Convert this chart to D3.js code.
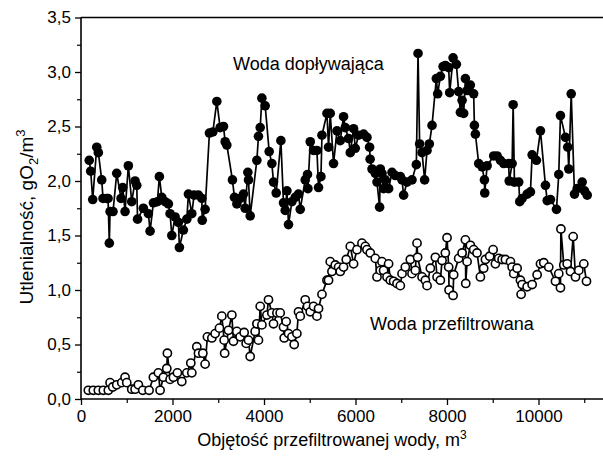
<!DOCTYPE html>
<html><head><meta charset="utf-8">
<script src="https://cdn.jsdelivr.net/npm/d3@7/dist/d3.min.js"></script>
<style>
html,body{margin:0;padding:0;background:#fff;}
svg{display:block;}
text{font-family:"Liberation Sans",Arial,sans-serif;fill:#000;}
</style></head>
<body>
<svg id="chart" width="603" height="461"></svg>
<script>
// Woda dopływająca (inflow water), filled circles
const inflowVolume = [180,212,256,344,379,453,481,562,591,619,635,700,781,875,912,963,1035,1109,1182,1219,1236,1363,1473,1510,1582,1669,1713,1766,1838,1910,1947,1985,2057,2129,2151,2238,2313,2348,2422,2472,2567,2641,2650,2713,2807,2882,2969,3041,3114,3151,3188,3310,3354,3407,3479,3551,3588,3647,3661,3698,3844,3879,3917,3954,4026,4113,4172,4208,4267,4369,4426,4464,4501,4536,4610,4682,4754,4792,4901,4951,4960,5011,5083,5157,5192,5245,5267,5376,5411,5448,5520,5595,5667,5739,5776,5849,5886,5958,5995,6067,6177,6251,6308,6320,6361,6433,6470,6527,6542,6579,6614,6651,6724,6798,6870,6980,7017,7052,7126,7235,7330,7367,7402,7455,7511,7564,7614,7673,7767,7796,7855,7914,7964,8037,8059,8133,8205,8255,8293,8330,8365,8402,8439,8511,8583,8599,8621,8693,8767,8818,8825,8877,9021,9096,9168,9240,9349,9360,9424,9446,9474,9568,9590,9643,9752,9824,9861,9955,10043,10152,10190,10262,10393,10443,10480,10590,10640,10662,10715,10787,10846,10955,11006,11065];
const inflowValue = [2.19,2.09,1.83,2.31,2.26,2.01,1.84,1.84,1.84,1.43,1.72,1.72,2.07,1.84,1.94,1.72,2.14,1.81,2.00,1.96,1.65,1.75,1.70,1.54,1.80,1.81,2.04,1.85,1.81,1.79,1.70,1.50,1.67,1.62,1.39,1.55,1.65,1.88,1.70,1.87,1.87,1.84,1.64,1.74,2.44,2.45,2.73,2.49,2.50,2.36,2.33,2.01,1.85,1.79,1.84,1.88,1.75,2.08,2.01,1.68,2.19,2.41,2.49,2.76,2.69,2.27,2.16,1.99,1.89,2.37,1.80,1.73,1.91,1.60,1.81,1.85,1.88,1.74,2.01,2.06,1.93,2.36,2.28,2.28,1.94,2.04,2.42,2.62,2.31,2.62,2.16,2.46,2.37,2.59,2.49,2.39,2.26,2.48,2.30,2.42,2.43,2.40,2.31,2.20,2.11,2.07,1.99,1.76,2.11,2.07,1.93,2.01,1.93,2.08,2.05,2.04,2.01,1.87,1.99,2.01,2.15,3.17,2.34,2.26,2.01,2.28,2.34,2.51,2.94,2.80,2.96,3.05,3.06,3.04,2.81,3.13,3.07,2.82,2.63,2.74,2.62,2.94,2.83,2.88,2.80,2.51,2.43,2.16,2.13,2.01,1.89,2.14,2.23,2.23,2.19,2.16,2.16,2.00,2.16,2.70,1.99,1.99,1.81,1.84,1.88,1.90,2.24,2.19,2.46,1.96,1.82,1.83,1.74,2.06,2.60,2.40,2.31,2.11,2.80,1.88,1.93,1.99,1.91,1.87];

// Woda przefiltrowana (filtered water), open circles
const filteredVolume = [160,269,379,488,597,635,694,781,891,963,1000,1109,1182,1254,1350,1488,1582,1691,1729,1801,1875,1888,1947,2020,2107,2203,2313,2400,2422,2531,2567,2663,2713,2763,2860,2932,3026,3078,3129,3140,3223,3297,3332,3407,3479,3566,3610,3661,3698,3807,3844,3879,3917,3954,4063,4098,4172,4208,4282,4354,4426,4442,4485,4536,4610,4660,4719,4754,4792,4901,4951,5011,5083,5157,5192,5267,5376,5411,5448,5485,5558,5630,5667,5739,5798,5886,5958,6032,6141,6214,6251,6323,6433,6470,6542,6579,6614,6689,6724,6761,6833,6907,6980,7017,7089,7198,7235,7308,7345,7358,7455,7527,7564,7636,7746,7783,7855,7892,7964,8001,8037,8045,8133,8146,8255,8330,8402,8410,8439,8511,8583,8656,8730,8802,8840,8933,9008,9058,9130,9205,9277,9387,9424,9459,9533,9605,9620,9643,9752,9861,9970,10043,10115,10224,10371,10443,10480,10490,10553,10627,10699,10758,10809,10881,10990,11049];
const filteredValue = [0.08,0.08,0.08,0.08,0.08,0.15,0.11,0.13,0.15,0.20,0.15,0.09,0.09,0.13,0.08,0.08,0.20,0.24,0.08,0.20,0.28,0.42,0.18,0.20,0.24,0.16,0.24,0.33,0.24,0.48,0.42,0.42,0.32,0.57,0.56,0.60,0.65,0.76,0.54,0.42,0.63,0.77,0.53,0.62,0.57,0.61,0.51,0.54,0.39,0.62,0.69,0.54,0.85,0.68,0.77,0.91,0.79,0.69,0.79,0.79,0.66,0.56,0.71,0.60,0.57,0.50,0.60,0.80,0.76,0.91,0.85,0.80,0.85,0.76,0.83,0.96,1.09,1.09,1.26,1.17,1.23,1.21,1.17,1.21,1.28,1.40,1.24,1.37,1.43,1.40,1.37,1.34,1.29,1.12,1.18,1.26,1.18,1.12,1.24,1.09,1.08,1.06,1.04,1.15,1.21,1.28,1.15,1.18,1.43,1.30,1.12,1.09,1.04,1.20,1.30,1.12,1.09,1.27,1.34,1.48,1.21,1.00,0.95,1.14,1.29,1.34,1.46,1.06,1.26,1.41,1.37,1.34,1.12,1.20,1.28,1.31,1.37,1.24,1.29,1.28,1.28,1.26,1.21,1.15,1.20,1.09,0.96,1.05,1.03,1.05,1.14,1.24,1.25,1.21,1.08,1.15,1.02,1.56,1.23,1.24,1.17,1.49,1.12,1.18,1.24,1.08];

const yTickValues = [0,0.5,1.0,1.5,2.0,2.5,3.0,3.5];
const yTickLabels = ["0,0","0,5","1,0","1,5","2,0","2,5","3,0","3,5"];
const xTickValues = [0,2000,4000,6000,8000,10000];
const xTickLabels = ["0","2000","4000","6000","8000","10000"];

const svg = d3.select("#chart");
const pL = 81, pR = 603, pT = 17.5, pB = 399;
const x = d3.scaleLinear().domain([0, 11410]).range([pL, pR]);
const y = d3.scaleLinear().domain([0, 3.5]).range([pB, pT]);

// Top frame line
svg.append("line").attr("x1", pL).attr("x2", pR).attr("y1", pT).attr("y2", pT)
  .attr("stroke", "#000").attr("stroke-width", 1.6);

// Y axis
const yAxis = d3.axisLeft(y).tickValues(yTickValues).tickSize(6).tickPadding(4)
  .tickFormat((d, i) => yTickLabels[i]);
const gy = svg.append("g").attr("transform", `translate(${pL},0)`).call(yAxis);
gy.select(".domain").remove();
gy.selectAll(".tick line").attr("stroke", "#000").attr("stroke-width", 1.3);
gy.selectAll(".tick text").attr("font-size", 17).attr("font-family", "Liberation Sans, Arial, sans-serif").attr("fill", "#000");
const yMinor = d3.axisLeft(y).tickValues(d3.range(0.25, 3.5, 0.5)).tickSize(4).tickFormat("");
const gym = svg.append("g").attr("transform", `translate(${pL},0)`).call(yMinor);
gym.select(".domain").remove();
gym.selectAll(".tick line").attr("stroke", "#000").attr("stroke-width", 1.2);

// X axis
const xAxis = d3.axisBottom(x).tickValues(xTickValues).tickSize(6).tickPadding(5)
  .tickFormat((d, i) => xTickLabels[i]);
const gx = svg.append("g").attr("transform", `translate(0,${pB})`).call(xAxis);
gx.select(".domain").remove();
gx.selectAll(".tick line").attr("stroke", "#000").attr("stroke-width", 1.3);
gx.selectAll(".tick text").attr("font-size", 17).attr("font-family", "Liberation Sans, Arial, sans-serif").attr("fill", "#000");
const xMinor = d3.axisBottom(x).tickValues(d3.range(1000, 11001, 2000)).tickSize(4).tickFormat("");
const gxm = svg.append("g").attr("transform", `translate(0,${pB})`).call(xMinor);
gxm.select(".domain").remove();
gxm.selectAll(".tick line").attr("stroke", "#000").attr("stroke-width", 1.2);

// Axis lines
svg.append("line").attr("x1", pL).attr("x2", pL).attr("y1", pT).attr("y2", pB)
  .attr("stroke", "#000").attr("stroke-width", 1.6);
svg.append("line").attr("x1", pL).attr("x2", pR).attr("y1", pB).attr("y2", pB)
  .attr("stroke", "#000").attr("stroke-width", 1.6);

// Series
const inflow = inflowVolume.map((v, i) => [v, inflowValue[i]]);
const filtered = filteredVolume.map((v, i) => [v, filteredValue[i]]);
const line = d3.line().x(d => x(d[0])).y(d => y(d[1]));

svg.append("path").datum(inflow).attr("d", line)
  .attr("fill", "none").attr("stroke", "#000").attr("stroke-width", 1.7);
svg.append("g").selectAll("circle").data(inflow).join("circle")
  .attr("cx", d => x(d[0])).attr("cy", d => y(d[1])).attr("r", 4.8).attr("fill", "#000");

svg.append("path").datum(filtered).attr("d", line)
  .attr("fill", "none").attr("stroke", "#000").attr("stroke-width", 1.7);
svg.append("g").selectAll("circle").data(filtered).join("circle")
  .attr("cx", d => x(d[0])).attr("cy", d => y(d[1])).attr("r", 4.1)
  .attr("fill", "#fff").attr("stroke", "#000").attr("stroke-width", 1.6);

// In-plot labels
svg.append("text").attr("x", 233).attr("y", 69.5).attr("font-size", 18).text("Woda dopływająca");
svg.append("text").attr("x", 370).attr("y", 330).attr("font-size", 18).text("Woda przefiltrowana");

// X title
const xt = svg.append("text").attr("x", 332).attr("y", 446).attr("text-anchor", "middle").attr("font-size", 18);
xt.append("tspan").text("Objętość przefiltrowanej wody, m");
xt.append("tspan").attr("font-size", 12).attr("dy", -7).text("3");

// Y title
const yt = svg.append("text").attr("transform", "translate(33,217) rotate(-90)")
  .attr("text-anchor", "middle").attr("font-size", 19);
yt.append("tspan").text("Utlenialność, gO");
yt.append("tspan").attr("font-size", 13).attr("dy", 5).text("2");
yt.append("tspan").attr("dy", -5).text("/m");
yt.append("tspan").attr("font-size", 13).attr("dy", -8).text("3");
</script>
</body></html>
